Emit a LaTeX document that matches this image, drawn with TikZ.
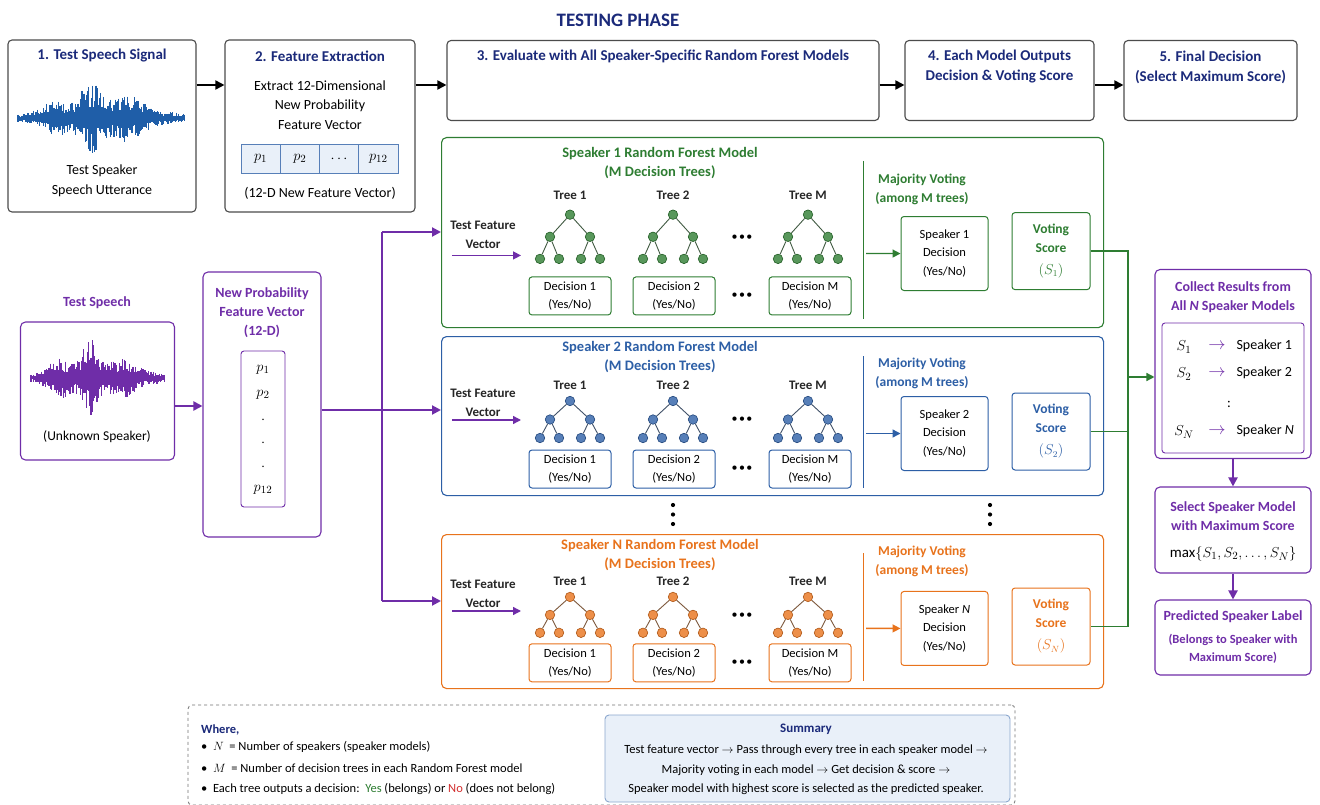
\documentclass[tikz,border=0pt]{standalone}
\usepackage{fontspec}
\setmainfont{Carlito}
\usetikzlibrary{arrows.meta}

\definecolor{navy}{HTML}{1B2A7A}
\definecolor{rfgreen}{HTML}{2E7D32}
\definecolor{rfblue}{HTML}{2D5FA6}
\definecolor{rforange}{HTML}{E8731C}
\definecolor{rfpurple}{HTML}{6F2DA8}
\definecolor{wavblue}{HTML}{1F5EA8}
\definecolor{sumfill}{HTML}{E9F0F9}
\definecolor{nored}{HTML}{D32F2F}

\tikzset{
  model/.style={draw=#1, line width=1.1pt, rounded corners=5pt, fill=white, inner sep=0, minimum width=662},
  tnode/.style={circle, fill=#1!80!white, draw=#1!75!black, line width=0.6pt, inner sep=0, minimum size=9.5pt},
  tedge/.style={draw=#1!40!black!80, line width=0.9pt},
  dec/.style={draw=#1, line width=1pt, rounded corners=3pt, fill=white, align=center, inner sep=1pt,
    minimum width=82, minimum height=38, font=\fontsize{12.5}{18}\selectfont},
  mhead/.style={text=#1, align=center, font=\fontsize{14}{19}\selectfont\bfseries},
  carr/.style={draw=#1, line width=1.4pt, -{Triangle[length=8pt,width=8pt]}},
}

% one decision tree: name, x, y of root, level gap, colour
\newcommand{\rftree}[5]{%
  \node[tnode=#5] (#1r) at (#2,#3) {};
  \node[tnode=#5] (#1a) at (#2-20,#3+#4) {};
  \node[tnode=#5] (#1b) at (#2+20,#3+#4) {};
  \node[tnode=#5] (#1c) at (#2-30,#3+2*#4) {};
  \node[tnode=#5] (#1d) at (#2-11,#3+2*#4) {};
  \node[tnode=#5] (#1e) at (#2+11,#3+2*#4) {};
  \node[tnode=#5] (#1f) at (#2+30,#3+2*#4) {};
  \draw[tedge=#5] (#1r) -- (#1a) (#1r) -- (#1b) (#1a) -- (#1c) (#1a) -- (#1d) (#1b) -- (#1e) (#1b) -- (#1f);
}

% one speaker model: name, colour, top, height, title label, decision label, score index, input y, voting y
\newcommand{\rfmodel}[9]{%
  \begin{scope}[shift={(0,#3)}, yscale=#4/159]
    \node[model=#2, minimum height=#4, anchor=north west] (#1) at (441,0) {};
    \node[mhead=#2, font=\fontsize{14.5}{19}\selectfont\bfseries] (#1-title) at (660,21.5) {Speaker #5 Random Forest Model\\(M Decision Trees)};
    \node[tlabel] (#1-l1) at (570,49) {Tree 1};
    \node[tlabel] (#1-l2) at (673,49) {Tree 2};
    \node[tlabel] (#1-l3) at (808,49) {Tree M};
    \node[tlabel] (#1-in) at (483,#8) {Test Feature\\Vector};
    \coordinate (#1-a0) at (452,#8+17.5);
    \coordinate (#1-a1) at (521,#8+17.5);
    \draw[carr=rfpurple] (#1-a0) -- (#1-a1);
    \rftree{#1-t1}{570}{65}{18.5}{#2}
    \rftree{#1-t2}{673}{65}{18.5}{#2}
    \rftree{#1-t3}{808}{65}{18.5}{#2}
    \node[hdots] (#1-d1) at (742,84) {\textbullet\hspace{1.5pt}\textbullet\hspace{1.5pt}\textbullet};
    \node[dec=#2] (#1-c1) at (570,133) {Decision 1\\(Yes/No)};
    \node[dec=#2] (#1-c2) at (674,133) {Decision 2\\(Yes/No)};
    \node[dec=#2] (#1-c3) at (810,133) {Decision M\\(Yes/No)};
    \node[hdots] (#1-d2) at (742,133) {\textbullet\hspace{1.5pt}\textbullet\hspace{1.5pt}\textbullet};
    \coordinate (#1-s0) at (863,20);
    \coordinate (#1-s1) at (863,152);
    \draw[draw=#2, line width=1pt] (#1-s0) -- (#1-s1);
    \node[mhead=#2, font=\fontsize{13.5}{19}\selectfont\bfseries] (#1-maj) at (922,#9) {Majority Voting\\(among M trees)};
    \node[dec=#2, minimum width=87, minimum height=74, font=\fontsize{12.5}{18.5}\selectfont] (#1-dec) at (944.5,97.5) {Speaker #6\\Decision\\(Yes/No)};
    \node[dec=#2, minimum width=78, minimum height=77, text=#2, font=\fontsize{13.5}{19}\selectfont\bfseries] (#1-vote) at (1051,95.5) {Voting\\Score\\[3pt]$(S_#7)$};
    \coordinate (#1-m0) at (866,97.5);
    \draw[carr=#2] (#1-m0) -- (#1-dec);
  \end{scope}}

\begin{document}
\begin{tikzpicture}[x=1pt,y=-1pt]
  \tikzstyle{panel}=[draw=black!70, line width=1.1pt, rounded corners=4pt, fill=white, inner sep=0]
  \tikzstyle{ppanel}=[draw=rfpurple, line width=1.1pt, rounded corners=5pt, fill=white, inner sep=0]
  \tikzstyle{hdr}=[text=navy, align=center, font=\fontsize{15}{20}\selectfont\bfseries]
  \tikzstyle{ptitle}=[text=rfpurple, align=center, font=\fontsize{14}{19}\selectfont\bfseries]
  \tikzstyle{txt}=[text=black, align=center, font=\fontsize{14}{19.5}\selectfont]
  \tikzstyle{tlabel}=[text=black!85, align=center, font=\fontsize{13}{19}\selectfont\bfseries]
  \tikzstyle{hdots}=[font=\fontsize{12}{12}\selectfont, inner sep=0]
  \tikzstyle{cell}=[draw=rfblue!80, fill=sumfill, line width=0.8pt, minimum width=39.25, minimum height=29, inner sep=0, font=\fontsize{15}{18}\selectfont]
  \tikzstyle{arr}=[line width=1.8pt, -{Triangle[length=9pt,width=9pt]}]
  \tikzstyle{parr}=[draw=rfpurple, line width=2pt, -{Triangle[length=9pt,width=9pt]}]
  \tikzstyle{pline}=[draw=rfpurple, line width=2pt]
  \tikzstyle{gline}=[draw=rfgreen, line width=1.3pt]
  \tikzstyle{wave}=[line width=1.1pt]
  \tikzstyle{small}=[font=\fontsize{12.5}{20}\selectfont, inner sep=0]
  \tikzstyle{sarrow}=[text=rfpurple, font=\fontsize{17}{18}\selectfont, inner sep=0]

  \fill[white] (0,0) rectangle (1320,805);
  \useasboundingbox (0,0) rectangle (1320,805);

  \node[text=navy, font=\fontsize{19}{22}\selectfont\bfseries] (phase) at (618,20) {TESTING PHASE};

  % top row of steps
  \node[panel, minimum width=188, minimum height=172] (sig) at (102,126) {};
  \node[hdr] (sigt) at (102,56) {1. Test Speech Signal};
  \pgfmathsetseed{11}
  \foreach \k in {0,...,139} {
    \pgfmathsetmacro{\wx}{18+1.2*\k}
    \pgfmathsetmacro{\wa}{4+8*sin(1.295*\k)+24*exp(max(-9,-((\wx-90)/13)*((\wx-90)/13)))+13*exp(max(-9,-((\wx-125)/20)*((\wx-125)/20)))+10*exp(max(-9,-((\wx-55)/15)*((\wx-55)/15)))}
    \pgfmathsetmacro{\wu}{\wa*(0.3+0.7*rnd)}
    \pgfmathsetmacro{\wd}{\wa*(0.3+0.7*rnd)}
    \draw[wave, wavblue] (\wx,118-\wu) -- (\wx,118+\wd);
  }
  \node[txt] (sigc) at (102,181) {Test Speaker\\Speech Utterance};

  \node[panel, minimum width=190, minimum height=172] (feat) at (320,126) {};
  \node[hdr] (featt) at (320,56) {2. Feature Extraction};
  \node[txt] (featx) at (320,105) {Extract 12-Dimensional\\New Probability\\Feature Vector};
  \node[cell] (c1) at (260.6,159) {$p_1$};
  \node[cell] (c2) at (299.9,159) {$p_2$};
  \node[cell] (c3) at (339.1,159) {$\cdots$};
  \node[cell] (c4) at (378.4,159) {$p_{12}$};
  \node[txt] (featc) at (320,193) {(12-D New Feature Vector)};

  \node[panel, minimum width=432, minimum height=80] (eval) at (663,80.5) {};
  \node[hdr] (evalt) at (663,56) {3. Evaluate with All Speaker-Specific Random Forest Models};
  \node[panel, minimum width=189, minimum height=80] (outp) at (999.5,80.5) {};
  \node[hdr] (outpt) at (999.5,67) {4. Each Model Outputs\\Decision \& Voting Score};
  \node[panel, minimum width=173, minimum height=80] (fin) at (1210.5,80.5) {};
  \node[hdr] (fint) at (1210.5,67) {5. Final Decision\\(Select Maximum Score)};

  \coordinate (row) at (0,85);
  \draw[arr] (sig.east |- row) -- (feat.west |- row);
  \draw[arr] (feat.east |- row) -- (eval.west |- row);
  \draw[arr] (eval.east |- row) -- (outp.west |- row);
  \draw[arr] (outp.east |- row) -- (fin.west |- row);

  % input side
  \node[text=rfpurple, font=\fontsize{14}{19}\selectfont\bfseries] (tsl) at (97,303) {Test Speech};
  \node[ppanel, minimum width=154, minimum height=138] (tsp) at (97.5,391) {};
  \pgfmathsetseed{5}
  \foreach \k in {0,...,111} {
    \pgfmathsetmacro{\wx}{31+1.2*\k}
    \pgfmathsetmacro{\wa}{4+7*sin(1.62*\k)+28*exp(max(-9,-((\wx-90)/10)*((\wx-90)/10)))+12*exp(max(-9,-((\wx-60)/14)*((\wx-60)/14)))+10*exp(max(-9,-((\wx-125)/18)*((\wx-125)/18)))}
    \pgfmathsetmacro{\wu}{\wa*(0.3+0.7*rnd)}
    \pgfmathsetmacro{\wd}{\wa*(0.3+0.7*rnd)}
    \draw[wave, rfpurple] (\wx,378-\wu) -- (\wx,378+\wd);
  }
  \node[txt, font=\fontsize{13.5}{19}\selectfont] (tspc) at (97,437) {(Unknown Speaker)};

  \node[ppanel, minimum width=118, minimum height=265] (fv) at (262,404.5) {};
  \node[ptitle] (fvt) at (262,313) {New Probability\\Feature Vector\\(12-D)};
  \node[ppanel, line width=0.9pt, rounded corners=3pt, minimum width=44, minimum height=156] (fvin) at (263,429) {};
  \node[font=\fontsize{15}{18}\selectfont] (p1) at (263,370) {$p_1$};
  \node[font=\fontsize{15}{18}\selectfont] (p2) at (263,395) {$p_2$};
  \node[font=\fontsize{15}{18}\selectfont] (pd1) at (263,420) {$\cdot$};
  \node[font=\fontsize{15}{18}\selectfont] (pd2) at (263,443) {$\cdot$};
  \node[font=\fontsize{15}{18}\selectfont] (pd3) at (263,467) {$\cdot$};
  \node[font=\fontsize{15}{18}\selectfont] (p12) at (263,490) {$p_{12}$};

  \coordinate (inrow) at (0,406);
  \draw[parr] (tsp.east |- inrow) -- (fv.west |- inrow);

  % the speaker models
  \rfmodel{m1}{rfgreen}{137}{190}{1}{1}{1}{81.6}{44}
  \rfmodel{m2}{rfblue}{336}{159}{2}{2}{2}{66.5}{37}
  \rfmodel{mN}{rforange}{534}{154}{N}{\textit{N}}{N}{62}{28.4}

  \foreach \vx in {673,990}
    \foreach \vy in {505,514.5,524}
      \fill (\vx,\vy) circle (2.1);

  \coordinate (fan1) at (382,232);
  \coordinate (fan) at (382,410);
  \coordinate (fanN) at (382,601);
  \draw[pline] (fv.east |- fan) -- (fan);
  \draw[pline] (fan1) -- (fanN);
  \draw[parr] (fan1) -- (m1.west |- fan1);
  \draw[parr] (fan) -- (m2.west |- fan);
  \draw[parr] (fanN) -- (mN.west |- fanN);

  % results column
  \node[ppanel, minimum width=156, minimum height=189] (coll) at (1233,364) {};
  \node[ptitle] (collt) at (1233,297.5) {Collect Results from\\All \textit{N} Speaker Models};
  \node[ppanel, line width=0.9pt, rounded corners=3pt, minimum width=142, minimum height=130] (colli) at (1233,388) {};
  \node[font=\fontsize{15}{18}\selectfont] (s1) at (1184,347) {$S_1$};
  \node[sarrow] (s1a) at (1217,346) {$\rightarrow$};
  \node[txt, anchor=west] (s1b) at (1233,346) {Speaker 1};
  \node[font=\fontsize{15}{18}\selectfont] (s2) at (1184,374) {$S_2$};
  \node[sarrow] (s2a) at (1217,373) {$\rightarrow$};
  \node[txt, anchor=west] (s2b) at (1233,373) {Speaker 2};
  \node[txt] (sc) at (1229,404) {:};
  \node[font=\fontsize{15}{18}\selectfont] (sN) at (1184,432) {$S_N$};
  \node[sarrow] (sNa) at (1217,431) {$\rightarrow$};
  \node[txt, anchor=west] (sNb) at (1233,431) {Speaker \textit{N}};

  \node[ppanel, minimum width=156, minimum height=86] (sel) at (1233,530) {};
  \node[ptitle] (selt) at (1233,516.5) {Select Speaker Model\\with Maximum Score};
  \node[font=\fontsize{15}{18}\selectfont] (selm) at (1233,554) {$\max\{S_1,S_2,\dots,S_N\}$};
  \node[ppanel, minimum width=156, minimum height=75] (pred) at (1233,637.5) {};
  \node[ptitle] (predt) at (1233,617) {Predicted Speaker Label};
  \node[ptitle, font=\fontsize{12.5}{18}\selectfont\bfseries] (predx) at (1233,649) {(Belongs to Speaker with\\Maximum Score)};
  \draw[parr] (coll.south) -- (sel.north);
  \draw[parr] (sel.south) -- (pred.north);

  \coordinate (busx) at (1128,0);
  \coordinate (busin) at (1128,377);
  \draw[gline] (m1-vote.east) -- (m1-vote.east -| busx) -- (mN-vote.east -| busx) -- (mN-vote.east);
  \draw[gline] (m2-vote.east) -- (m2-vote.east -| busx);
  \draw[carr=rfgreen] (busin) -- (coll.west |- busin);

  % legend and summary
  \node[draw=black!55, dashed, line width=0.8pt, rounded corners=4pt, minimum width=827, minimum height=100] (legend) at (601.5,755) {};
  \node[small, anchor=west, text=navy, font=\fontsize{12.5}{20}\selectfont\bfseries] (where) at (201,730) {Where,};
  \node[small, anchor=west] (leg1) at (201,747) {\textbullet\ \ $N$\ \ = Number of speakers (speaker models)};
  \node[small, anchor=west] (leg2) at (201,768) {\textbullet\ \ $M$\ \ = Number of decision trees in each Random Forest model};
  \node[small, anchor=west] (leg3) at (201,789) {\textbullet\ \ Each tree outputs a decision:\ \ \textcolor{rfgreen}{Yes} (belongs) or \textcolor{nored}{No} (does not belong)};
  \node[draw=rfblue!55, fill=sumfill, line width=0.9pt, rounded corners=4pt, minimum width=405, minimum height=87] (summ) at (807.5,758.5) {};
  \node[text=navy, font=\fontsize{13}{20}\selectfont\bfseries] (summt) at (806,729) {Summary};
  \node[align=center, font=\fontsize{12.5}{19.5}\selectfont] (summx) at (806,770) {Test feature vector $\rightarrow$\ Pass through every tree in each speaker model $\rightarrow$\\Majority voting in each model $\rightarrow$\ Get decision \& score $\rightarrow$\\Speaker model with highest score is selected as the predicted speaker.};
\end{tikzpicture}
\end{document}
